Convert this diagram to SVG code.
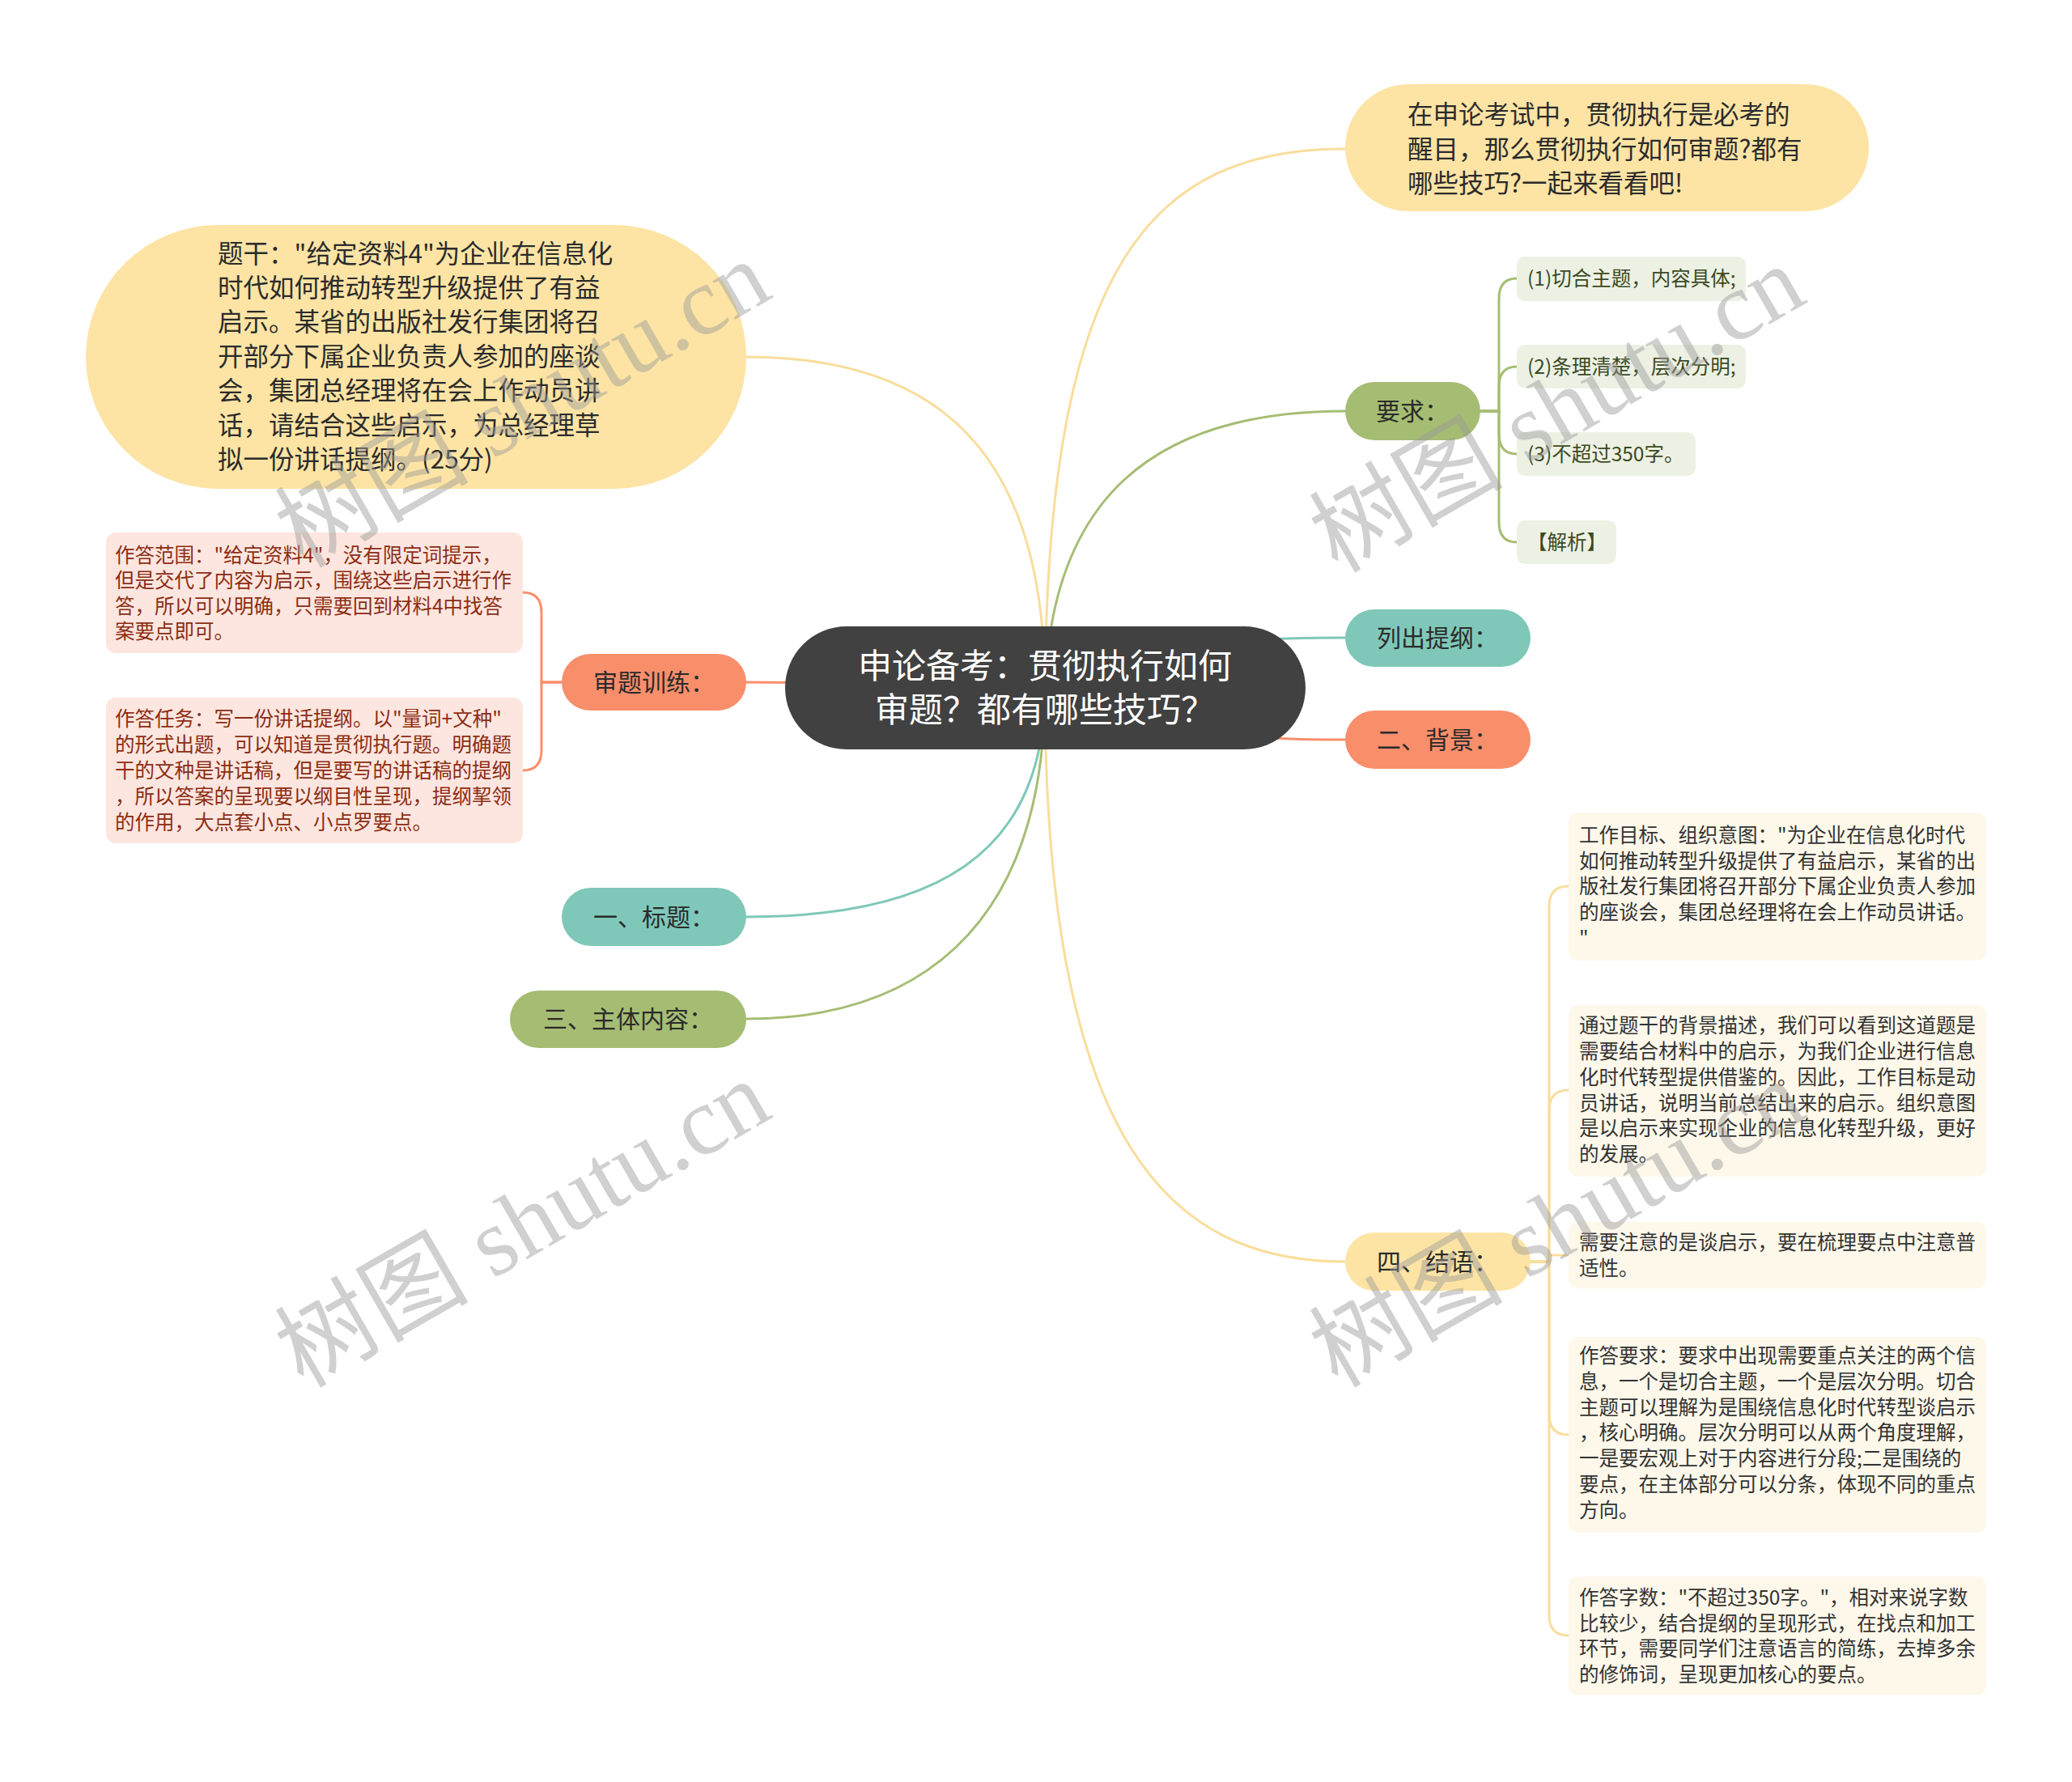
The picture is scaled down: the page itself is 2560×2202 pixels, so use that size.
<svg xmlns="http://www.w3.org/2000/svg" width="2560" height="2202" viewBox="0 0 2560 2202">
<style>
text{font-family:"Noto Sans CJK SC","Noto Sans",sans-serif;}
.ln{fill:none;stroke-width:3;}
.y{stroke:#f9dd9c;}
.g{stroke:#a5bd73;}
.t{stroke:#7fc8b9;}
.o{stroke:#f98e6b;}
.big{font-size:31.5px;fill:#2b2b2b;}
.mid{font-size:30px;fill:#2b2b2b;text-anchor:middle;}
.sm{font-size:24.5px;}
.pk{fill:#8c2d14;}
.gt{fill:#3b4a1f;}
.ct{fill:#333333;}
.wm{font-family:"Liberation Serif","Noto Sans CJK SC",serif;font-size:120px;fill:#999999;opacity:0.45;text-anchor:middle;}
</style>
<rect width="2560" height="2202" fill="#ffffff"/>
<g id="connectors">
<path class="ln y" d="M1291 850 C1295 330 1420 184 1662 184"/>
<path class="ln y" d="M1291 850 C1291 560 1160 441 922 441"/>
<path class="ln g" d="M1291 850 C1300 620 1420 508 1662 508"/>
<path class="ln t" d="M1291 850 C1450 790 1560 788 1662 788"/>
<path class="ln o" d="M1291 850 C1450 910 1560 914 1662 914"/>
<path class="ln o" d="M1291 850 C1100 845 1000 843 922 843"/>
<path class="ln t" d="M1291 850 C1291 1060 1150 1133 922 1133"/>
<path class="ln g" d="M1291 850 C1291 1160 1120 1259 922 1259"/>
<path class="ln y" d="M1291 850 C1291 1420 1450 1559 1662 1559"/>
<path class="ln g" d="M1829 508 H1852 V369 Q1852 344 1874 344"/>
<path class="ln g" d="M1829 508 H1852 V478 Q1852 453 1874 453"/>
<path class="ln g" d="M1829 508 H1852 V536 Q1852 561 1874 561"/>
<path class="ln g" d="M1829 508 H1852 V645 Q1852 670 1874 670"/>
<path class="ln o" d="M694 843 H669 V757 Q669 732 646 732"/>
<path class="ln o" d="M694 843 H669 V927 Q669 952 646 952"/>
<path class="ln y" d="M1891 1559 H1914 V1120 Q1914 1095 1938 1095"/>
<path class="ln y" d="M1891 1559 H1914 V1372 Q1914 1347 1938 1347"/>
<path class="ln y" d="M1891 1559 H1914 V1551 Q1914 1551 1938 1551"/>
<path class="ln y" d="M1891 1559 H1914 V1748 Q1914 1773 1938 1773"/>
<path class="ln y" d="M1891 1559 H1914 V1996 Q1914 2021 1938 2021"/>
</g>
<g id="root">
<rect x="970" y="774" width="643" height="152" rx="76" fill="#414141"/>
<text x="1291" y="838" font-size="42" fill="#ffffff" text-anchor="middle">申论备考：贯彻执行如何</text>
<text x="1291" y="892" font-size="42" fill="#ffffff" text-anchor="middle">审题？都有哪些技巧？</text>
</g>
<g id="n-tigan">
<rect x="106" y="278" width="816" height="326" rx="163" fill="#fde4a5"/>
<text class="big" x="269"><tspan x="269" y="325">题干："给定资料4"为企业在信息化</tspan><tspan x="269" y="367">时代如何推动转型升级提供了有益</tspan><tspan x="269" y="409">启示。某省的出版社发行集团将召</tspan><tspan x="269" y="452">开部分下属企业负责人参加的座谈</tspan><tspan x="269" y="494">会，集团总经理将在会上作动员讲</tspan><tspan x="269" y="537">话，请结合这些启示，为总经理草</tspan><tspan x="269" y="579">拟一份讲话提纲。(25分)</tspan></text>
</g>
<g id="n-intro">
<rect x="1662" y="104" width="647" height="157" rx="78.5" fill="#fde4a5"/>
<text class="big" x="1739"><tspan x="1739" y="153">在申论考试中，贯彻执行是必考的</tspan><tspan x="1739" y="196">醒目，那么贯彻执行如何审题?都有</tspan><tspan x="1739" y="238">哪些技巧?一起来看看吧!</tspan></text>
</g>
<g id="n-yaoqiu">
<rect x="1662" y="472" width="167" height="72" rx="36" fill="#a5bd73"/>
<text class="mid" x="1745" y="519">要求：</text>
</g>
<g id="n-y1">
<rect x="1874" y="317" width="283" height="55" rx="10" fill="#edf1e4"/>
<text class="sm gt" x="1887" y="353">(1)切合主题，内容具体;</text>
</g>
<g id="n-y2">
<rect x="1874" y="426" width="283" height="54" rx="10" fill="#edf1e4"/>
<text class="sm gt" x="1887" y="462">(2)条理清楚，层次分明;</text>
</g>
<g id="n-y3">
<rect x="1874" y="534" width="221" height="54" rx="10" fill="#edf1e4"/>
<text class="sm gt" x="1887" y="570">(3)不超过350字。</text>
</g>
<g id="n-y4">
<rect x="1874" y="643" width="123" height="54" rx="10" fill="#edf1e4"/>
<text class="sm gt" x="1887" y="679">【解析】</text>
</g>
<g id="n-tigang">
<rect x="1662" y="753" width="229" height="71" rx="35.5" fill="#7fc8b9"/>
<text class="mid" x="1776" y="799">列出提纲：</text>
</g>
<g id="n-beijing">
<rect x="1662" y="878" width="229" height="72" rx="36" fill="#f98e6b"/>
<text class="mid" x="1776" y="925">二、背景：</text>
</g>
<g id="n-jieyu">
<rect x="1662" y="1523" width="229" height="72" rx="36" fill="#fde4a5"/>
<text class="mid" x="1776" y="1570">四、结语：</text>
</g>
<g id="n-j1">
<rect x="1938" y="1004" width="516" height="183" rx="12" fill="#fdf8ea"/>
<text class="sm ct"><tspan x="1951" y="1041">工作目标、组织意图："为企业在信息化时代</tspan><tspan x="1951" y="1073">如何推动转型升级提供了有益启示，某省的出</tspan><tspan x="1951" y="1104">版社发行集团将召开部分下属企业负责人参加</tspan><tspan x="1951" y="1136">的座谈会，集团总经理将在会上作动员讲话。</tspan><tspan x="1951" y="1168">"</tspan></text>
</g>
<g id="n-j2">
<rect x="1938" y="1242" width="516" height="212" rx="12" fill="#fdf8ea"/>
<text class="sm ct"><tspan x="1951" y="1276">通过题干的背景描述，我们可以看到这道题是</tspan><tspan x="1951" y="1308">需要结合材料中的启示，为我们企业进行信息</tspan><tspan x="1951" y="1340">化时代转型提供借鉴的。因此，工作目标是动</tspan><tspan x="1951" y="1372">员讲话，说明当前总结出来的启示。组织意图</tspan><tspan x="1951" y="1403">是以启示来实现企业的信息化转型升级，更好</tspan><tspan x="1951" y="1435">的发展。</tspan></text>
</g>
<g id="n-j3">
<rect x="1938" y="1510" width="516" height="82" rx="12" fill="#fdf8ea"/>
<text class="sm ct"><tspan x="1951" y="1544">需要注意的是谈启示，要在梳理要点中注意普</tspan><tspan x="1951" y="1576">适性。</tspan></text>
</g>
<g id="n-j4">
<rect x="1938" y="1652" width="516" height="242" rx="12" fill="#fdf8ea"/>
<text class="sm ct"><tspan x="1951" y="1684">作答要求：要求中出现需要重点关注的两个信</tspan><tspan x="1951" y="1716">息，一个是切合主题，一个是层次分明。切合</tspan><tspan x="1951" y="1748">主题可以理解为是围绕信息化时代转型谈启示</tspan><tspan x="1951" y="1779">，核心明确。层次分明可以从两个角度理解，</tspan><tspan x="1951" y="1811">一是要宏观上对于内容进行分段;二是围绕的</tspan><tspan x="1951" y="1843">要点，在主体部分可以分条，体现不同的重点</tspan><tspan x="1951" y="1875">方向。</tspan></text>
</g>
<g id="n-j5">
<rect x="1938" y="1948" width="516" height="147" rx="12" fill="#fdf8ea"/>
<text class="sm ct"><tspan x="1951" y="1983">作答字数："不超过350字。"，相对来说字数</tspan><tspan x="1951" y="2015">比较少，结合提纲的呈现形式，在找点和加工</tspan><tspan x="1951" y="2046">环节，需要同学们注意语言的简练，去掉多余</tspan><tspan x="1951" y="2078">的修饰词，呈现更加核心的要点。</tspan></text>
</g>
<g id="n-shenti">
<rect x="694" y="808" width="228" height="70" rx="35" fill="#f98e6b"/>
<text class="mid" x="808" y="854">审题训练：</text>
</g>
<g id="n-s1">
<rect x="131" y="658" width="515" height="149" rx="12" fill="#fde6df"/>
<text class="sm pk"><tspan x="142" y="695">作答范围："给定资料4"，没有限定词提示，</tspan><tspan x="142" y="726">但是交代了内容为启示，围绕这些启示进行作</tspan><tspan x="142" y="758">答，所以可以明确，只需要回到材料4中找答</tspan><tspan x="142" y="789">案要点即可。</tspan></text>
</g>
<g id="n-s2">
<rect x="131" y="862" width="515" height="180" rx="12" fill="#fde6df"/>
<text class="sm pk"><tspan x="142" y="897">作答任务：写一份讲话提纲。以"量词+文种"</tspan><tspan x="142" y="929">的形式出题，可以知道是贯彻执行题。明确题</tspan><tspan x="142" y="961">干的文种是讲话稿，但是要写的讲话稿的提纲</tspan><tspan x="142" y="993">，所以答案的呈现要以纲目性呈现，提纲挈领</tspan><tspan x="142" y="1025">的作用，大点套小点、小点罗要点。</tspan></text>
</g>
<g id="n-biaoti">
<rect x="694" y="1097" width="228" height="72" rx="36" fill="#7fc8b9"/>
<text class="mid" x="808" y="1144">一、标题：</text>
</g>
<g id="n-zhuti">
<rect x="630" y="1224" width="292" height="71" rx="35.5" fill="#a5bd73"/>
<text class="mid" x="776" y="1270">三、主体内容：</text>
</g>
<g id="watermark">
<text class="wm" x="646" y="540" transform="rotate(-30 646 500)">树图 shutu.cn</text>
<text class="wm" x="1924" y="546" transform="rotate(-30 1924 506)">树图 shutu.cn</text>
<text class="wm" x="646" y="1553" transform="rotate(-30 646 1513)">树图 shutu.cn</text>
<text class="wm" x="1924" y="1553" transform="rotate(-30 1924 1513)">树图 shutu.cn</text>
</g>
</svg>
